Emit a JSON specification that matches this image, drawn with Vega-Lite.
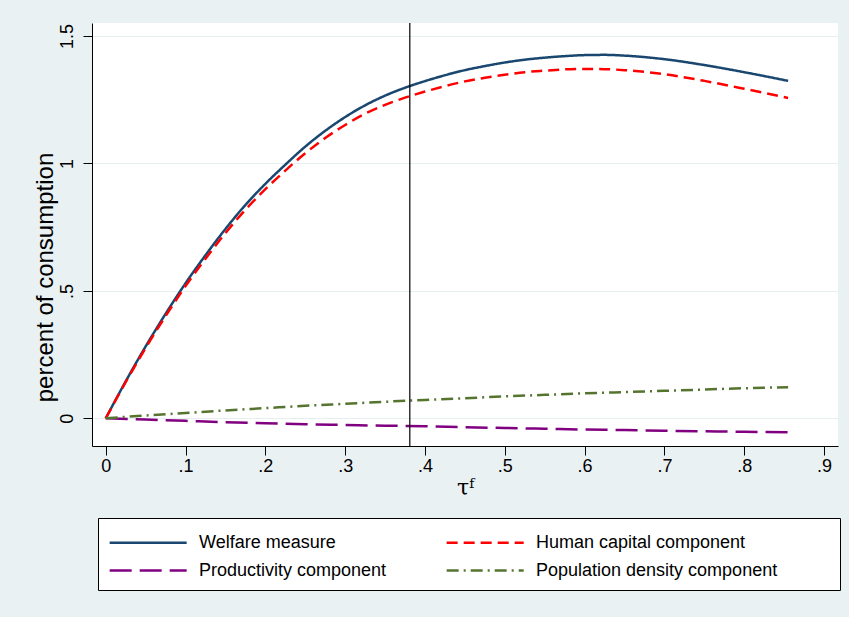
{
  "$schema": "https://vega.github.io/schema/vega-lite/v6.json",
  "autosize": {"type": "none"},
  "width": 746,
  "height": 423,
  "padding": {"left": 92, "top": 23, "right": 11, "bottom": 171},
  "background": "#EAF1F3",
  "config": {
    "font": "Liberation Sans",
    "view": {"fill": "white", "stroke": null},
    "axis": {"labelColor": "black", "titleColor": "black", "domainColor": "black", "tickColor": "black", "labelFontWeight": "normal", "titleFontWeight": "normal"}
  },
  "data": {"values": [
    {"x": 0, "v": 0, "s": "Welfare measure"},
    {"x": 0.025, "v": 0.145, "s": "Welfare measure"},
    {"x": 0.05, "v": 0.282, "s": "Welfare measure"},
    {"x": 0.075, "v": 0.41, "s": "Welfare measure"},
    {"x": 0.1, "v": 0.53, "s": "Welfare measure"},
    {"x": 0.125, "v": 0.64, "s": "Welfare measure"},
    {"x": 0.15, "v": 0.743, "s": "Welfare measure"},
    {"x": 0.175, "v": 0.837, "s": "Welfare measure"},
    {"x": 0.2, "v": 0.92, "s": "Welfare measure"},
    {"x": 0.225, "v": 0.995, "s": "Welfare measure"},
    {"x": 0.25, "v": 1.066, "s": "Welfare measure"},
    {"x": 0.275, "v": 1.128, "s": "Welfare measure"},
    {"x": 0.3, "v": 1.182, "s": "Welfare measure"},
    {"x": 0.325, "v": 1.228, "s": "Welfare measure"},
    {"x": 0.35, "v": 1.266, "s": "Welfare measure"},
    {"x": 0.375, "v": 1.297, "s": "Welfare measure"},
    {"x": 0.4, "v": 1.323, "s": "Welfare measure"},
    {"x": 0.425, "v": 1.346, "s": "Welfare measure"},
    {"x": 0.45, "v": 1.366, "s": "Welfare measure"},
    {"x": 0.475, "v": 1.382, "s": "Welfare measure"},
    {"x": 0.5, "v": 1.396, "s": "Welfare measure"},
    {"x": 0.525, "v": 1.407, "s": "Welfare measure"},
    {"x": 0.55, "v": 1.415, "s": "Welfare measure"},
    {"x": 0.575, "v": 1.421, "s": "Welfare measure"},
    {"x": 0.6, "v": 1.425, "s": "Welfare measure"},
    {"x": 0.625, "v": 1.426, "s": "Welfare measure"},
    {"x": 0.65, "v": 1.423, "s": "Welfare measure"},
    {"x": 0.7, "v": 1.409, "s": "Welfare measure"},
    {"x": 0.75, "v": 1.386, "s": "Welfare measure"},
    {"x": 0.8, "v": 1.358, "s": "Welfare measure"},
    {"x": 0.855, "v": 1.324, "s": "Welfare measure"},
    {"x": 0, "v": 0, "s": "Human capital component"},
    {"x": 0.025, "v": 0.142, "s": "Human capital component"},
    {"x": 0.05, "v": 0.276, "s": "Human capital component"},
    {"x": 0.075, "v": 0.401, "s": "Human capital component"},
    {"x": 0.1, "v": 0.519, "s": "Human capital component"},
    {"x": 0.125, "v": 0.626, "s": "Human capital component"},
    {"x": 0.15, "v": 0.727, "s": "Human capital component"},
    {"x": 0.175, "v": 0.818, "s": "Human capital component"},
    {"x": 0.2, "v": 0.899, "s": "Human capital component"},
    {"x": 0.225, "v": 0.972, "s": "Human capital component"},
    {"x": 0.25, "v": 1.04, "s": "Human capital component"},
    {"x": 0.275, "v": 1.1, "s": "Human capital component"},
    {"x": 0.3, "v": 1.151, "s": "Human capital component"},
    {"x": 0.325, "v": 1.195, "s": "Human capital component"},
    {"x": 0.35, "v": 1.23, "s": "Human capital component"},
    {"x": 0.375, "v": 1.258, "s": "Human capital component"},
    {"x": 0.4, "v": 1.282, "s": "Human capital component"},
    {"x": 0.425, "v": 1.303, "s": "Human capital component"},
    {"x": 0.45, "v": 1.322, "s": "Human capital component"},
    {"x": 0.475, "v": 1.336, "s": "Human capital component"},
    {"x": 0.5, "v": 1.348, "s": "Human capital component"},
    {"x": 0.525, "v": 1.358, "s": "Human capital component"},
    {"x": 0.55, "v": 1.364, "s": "Human capital component"},
    {"x": 0.575, "v": 1.369, "s": "Human capital component"},
    {"x": 0.6, "v": 1.371, "s": "Human capital component"},
    {"x": 0.625, "v": 1.37, "s": "Human capital component"},
    {"x": 0.65, "v": 1.366, "s": "Human capital component"},
    {"x": 0.7, "v": 1.35, "s": "Human capital component"},
    {"x": 0.75, "v": 1.324, "s": "Human capital component"},
    {"x": 0.8, "v": 1.293, "s": "Human capital component"},
    {"x": 0.855, "v": 1.257, "s": "Human capital component"},
    {"x": 0, "v": 0, "s": "Productivity component"},
    {"x": 0.05, "v": -0.005, "s": "Productivity component"},
    {"x": 0.1, "v": -0.01, "s": "Productivity component"},
    {"x": 0.15, "v": -0.015, "s": "Productivity component"},
    {"x": 0.2, "v": -0.019, "s": "Productivity component"},
    {"x": 0.25, "v": -0.023, "s": "Productivity component"},
    {"x": 0.3, "v": -0.026, "s": "Productivity component"},
    {"x": 0.35, "v": -0.029, "s": "Productivity component"},
    {"x": 0.4, "v": -0.031, "s": "Productivity component"},
    {"x": 0.45, "v": -0.035, "s": "Productivity component"},
    {"x": 0.5, "v": -0.038, "s": "Productivity component"},
    {"x": 0.55, "v": -0.041, "s": "Productivity component"},
    {"x": 0.6, "v": -0.044, "s": "Productivity component"},
    {"x": 0.65, "v": -0.046, "s": "Productivity component"},
    {"x": 0.7, "v": -0.049, "s": "Productivity component"},
    {"x": 0.75, "v": -0.051, "s": "Productivity component"},
    {"x": 0.8, "v": -0.053, "s": "Productivity component"},
    {"x": 0.855, "v": -0.055, "s": "Productivity component"},
    {"x": 0, "v": 0, "s": "Population density component"},
    {"x": 0.05, "v": 0.011, "s": "Population density component"},
    {"x": 0.1, "v": 0.021, "s": "Population density component"},
    {"x": 0.15, "v": 0.031, "s": "Population density component"},
    {"x": 0.2, "v": 0.04, "s": "Population density component"},
    {"x": 0.25, "v": 0.049, "s": "Population density component"},
    {"x": 0.3, "v": 0.057, "s": "Population density component"},
    {"x": 0.35, "v": 0.065, "s": "Population density component"},
    {"x": 0.4, "v": 0.072, "s": "Population density component"},
    {"x": 0.45, "v": 0.079, "s": "Population density component"},
    {"x": 0.5, "v": 0.086, "s": "Population density component"},
    {"x": 0.55, "v": 0.092, "s": "Population density component"},
    {"x": 0.6, "v": 0.098, "s": "Population density component"},
    {"x": 0.65, "v": 0.103, "s": "Population density component"},
    {"x": 0.7, "v": 0.108, "s": "Population density component"},
    {"x": 0.75, "v": 0.113, "s": "Population density component"},
    {"x": 0.8, "v": 0.118, "s": "Population density component"},
    {"x": 0.855, "v": 0.122, "s": "Population density component"}
  ]},
  "layer": [
    {
      "mark": {"type": "line", "strokeWidth": 2.5, "interpolate": "monotone", "clip": true},
      "encoding": {
        "x": {"field": "x", "type": "quantitative",
          "scale": {"domain": [-0.0172, 0.9175], "nice": false, "zero": false},
          "axis": {"values": [0, 0.1, 0.2, 0.3, 0.4, 0.5, 0.6, 0.7, 0.8, 0.9], "grid": false,
            "labelExpr": "replace(format(datum.value, '~g'), '0.', '.')",
            "title": "τᶠ", "titleFont": "DejaVu Serif", "titleFontSize": 22, "titlePadding": 2,
            "labelFontSize": 18, "labelPadding": 2, "tickSize": 9, "labelFlush": false}},
        "y": {"field": "v", "type": "quantitative",
          "scale": {"domain": [-0.1086, 1.551], "nice": false, "zero": false},
          "axis": {"values": [0, 0.5, 1, 1.5], "grid": true, "gridColor": "#E6EEF0", "gridWidth": 1.2,
            "labelExpr": "replace(format(datum.value, '~g'), '0.', '.')",
            "labelAngle": 270, "labelAlign": "center", "labelBaseline": "bottom",
            "title": "percent of consumption", "titleFontSize": 24,
            "titleAngle": 270, "titleX": -47, "titleY": 254, "titleAlign": "center", "titleBaseline": "middle",
            "labelFontSize": 18, "labelPadding": 7, "tickSize": 9, "labelFlush": false}},
        "color": {"field": "s", "type": "nominal",
          "scale": {"domain": ["Welfare measure", "Human capital component", "Productivity component", "Population density component"],
            "range": ["#1a476f", "#ff0000", "#800080", "#55752f"]},
          "legend": {"title": null, "orient": "none", "legendX": 6, "legendY": 495, "direction": "horizontal", "columns": 2,
            "fillColor": "white", "strokeColor": "black", "padding": 10,
            "symbolType": "M-1,0H5", "symbolSize": 659, "symbolStrokeWidth": 2.5,
            "labelFontSize": 18, "labelOffset": 62, "columnPadding": 54, "rowPadding": 4, "labelLimit": 600,
            "labelExpr": "datum.label == 'Population density component' ? datum.label + '\u2800\u2800\u2800\u2800' : datum.label"}},
        "strokeDash": {"field": "s", "type": "nominal",
          "scale": {"domain": ["Welfare measure", "Human capital component", "Productivity component", "Population density component"],
            "range": [[1, 0], [11, 6], [22, 8], [12, 5, 2, 5]]}}
      }
    },
    {
      "data": {"values": [{"x": 0.381}]},
      "mark": {"type": "rule", "color": "black", "strokeWidth": 1.2},
      "encoding": {"x": {"field": "x", "type": "quantitative"}}
    }
  ]
}
